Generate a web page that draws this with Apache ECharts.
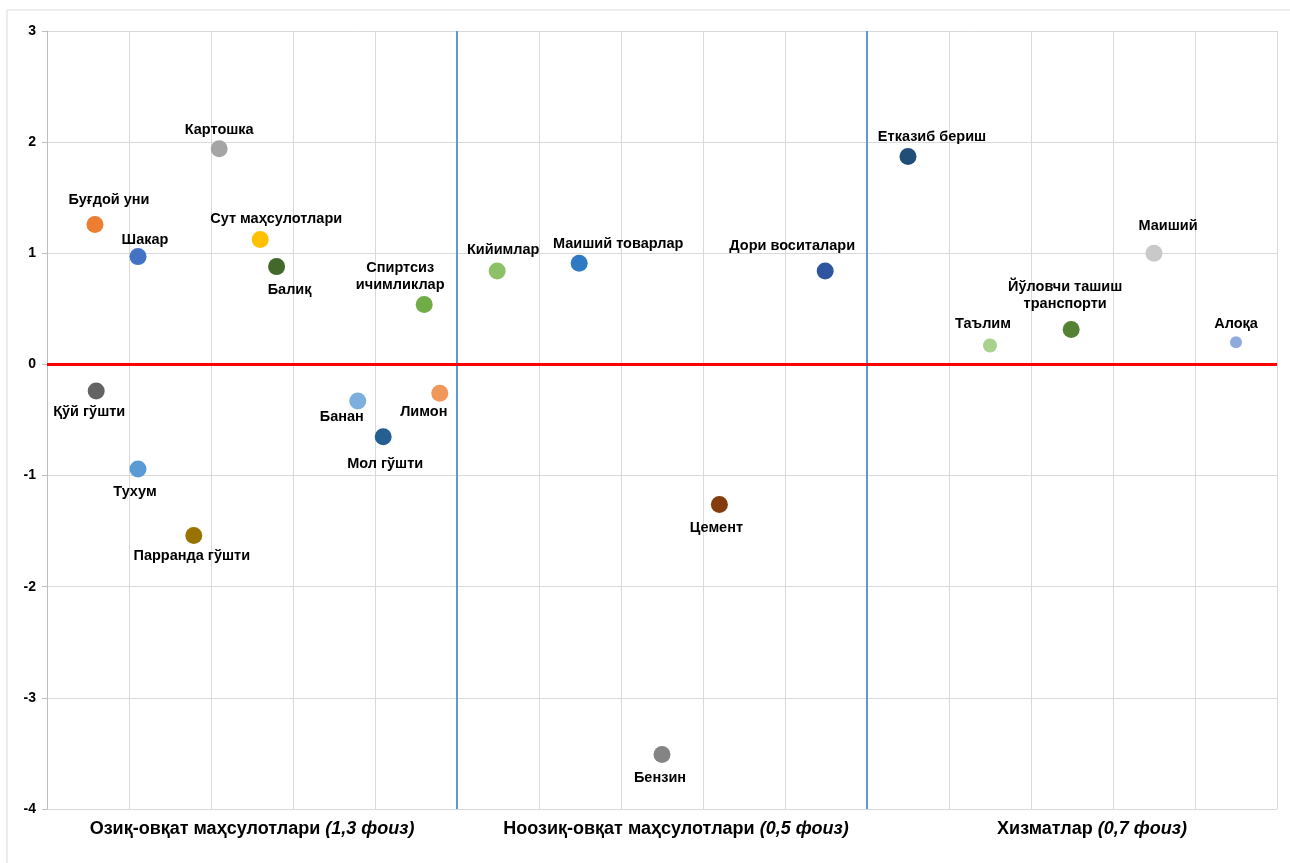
<!DOCTYPE html>
<html>
<head>
<meta charset="utf-8">
<script src="https://cdn.jsdelivr.net/npm/echarts@6/dist/echarts.min.js"></script>
<style>
html,body{margin:0;padding:0;background:#fff;}
#c{width:1290px;height:863px;}
</style>
</head>
<body>
<div id="c"></div>
<script>
// ---- data ----
const names = ['Буғдой уни','Шакар','Картошка','Сут маҳсулотлари','Балиқ','Спиртсиз\nичимликлар',
  'Қўй гўшти','Тухум','Парранда гўшти','Банан','Мол гўшти','Лимон',
  'Кийимлар','Маиший товарлар','Дори воситалари','Цемент','Бензин',
  'Етказиб бериш','Таълим','Йўловчи ташиш\nтранспорти','Маиший','Алоқа'];
const xValues = [0.585,1.11,2.10,2.60,2.80,4.60, 0.60,1.11,1.79,3.79,4.10,4.79,
  5.49,6.49,9.49,8.20,7.50, 10.50,11.50,12.49,13.50,14.50];
const yValues = [1.26,0.97,1.94,1.125,0.88,0.54, -0.24,-0.94,-1.54,-0.33,-0.65,-0.26,
  0.84,0.91,0.84,-1.26,-3.51, 1.87,0.17,0.315,1.0,0.20];
const groupLabels = ['Озиқ-овқат маҳсулотлари','Ноозиқ-овқат маҳсулотлари','Хизматлар'];
const groupShares = ['1,3','0,5','0,7'];
const yTicks = [-4,-3,-2,-1,0,1,2,3];
const dividers = [5,10];

// ---- styles (not data) ----
const colors = ['#ED7D31','#4472C4','#A5A5A5','#FFC000','#43682B','#70AD47',
  '#636363','#5B9BD5','#997300','#7CAFDD','#255E91','#F1975A',
  '#8CC168','#2E7BC4','#2F55A0','#843C0C','#848484',
  '#1F4E79','#A9D18E','#548235','#C9C9C9','#8FAADC'];
const sizes = [17,17,17,17,17,17, 17,17,17,17,17,17, 17,17,17,17,17, 17,14,17,17,12];
const labelOffsets = [[14,-24],[7,-17],[0,-19],[16,-20],[13,23],[-24,-28],
  [-7,21],[-3,23],[-2,20],[-16,16],[2,27],[-16,19],
  [6,-21],[39,-19],[-33,-25],[-3,24],[-2,23],
  [24,-20],[-7,-22],[-6,-34],[14,-27],[0,-18]];
const groupPad = [[0,0,0,0],[0,0,0,28],[0,0,0,40]];

const FONT = 'Liberation Sans, Arial, sans-serif';
const TXT = '#000000';
const pts = names.map((n,i)=>({
  name:n, value:[xValues[i], yValues[i]],
  symbolSize: sizes[i],
  itemStyle:{color:colors[i], opacity:1},
  label:{show:true, position:'inside', offset:labelOffsets[i], formatter:n,
    color:TXT, opacity:1, fontSize:14.5, fontWeight:'bold', fontFamily:FONT, lineHeight:17, align:'center'}
}));

const chart = echarts.init(document.getElementById('c'));
chart.setOption({
  animation:false,
  backgroundColor:'#fff',
  graphic:[{type:'rect', shape:{x:7,y:10,width:1300,height:900}, style:{fill:'none', stroke:'#d9d9d9', lineWidth:1}, silent:true, z:-10}],
  grid:{left:47, right:13, top:31, bottom:54},
  xAxis:[{
    type:'value', min:0, max:15, interval:1,
    axisLabel:{show:false}, axisTick:{show:false},
    axisLine:{show:false},
    splitLine:{show:true, lineStyle:{color:'#d9d9d9', width:1}}
  },{
    type:'category', data:groupLabels.map((g,i)=>g), position:'bottom',
    axisLine:{show:false}, axisTick:{show:false}, splitLine:{show:false},
    axisLabel:{interval:0, margin:11,
      formatter:(v,i)=>'{a'+i+'|'+v+' }{i|('+groupShares[i]+' фоиз)}',
      rich:{
        a0:{fontSize:18, fontWeight:'bold', fontFamily:FONT, color:TXT, padding:groupPad[0]},
        a1:{fontSize:18, fontWeight:'bold', fontFamily:FONT, color:TXT, padding:groupPad[1]},
        a2:{fontSize:18, fontWeight:'bold', fontFamily:FONT, color:TXT, padding:groupPad[2]},
        i:{fontSize:18, fontWeight:'bold', fontStyle:'italic', fontFamily:FONT, color:TXT}
      }}
  }],
  yAxis:{
    type:'value', min:-4, max:3, interval:1,
    axisLine:{show:true, lineStyle:{color:'#bfbfbf'}},
    axisTick:{show:true, length:5, lineStyle:{color:'#bfbfbf'}},
    axisLabel:{color:TXT, fontSize:14, fontWeight:'bold', fontFamily:FONT, margin:11,
      formatter:v=>yTicks.includes(v)?String(v):''},
    splitLine:{show:true, lineStyle:{color:'#d9d9d9', width:1}}
  },
  series:[{
    type:'scatter', xAxisIndex:0, data:pts, symbol:'circle',
    itemStyle:{opacity:1},
    markLine:{silent:true, symbol:'none', label:{show:false},
      data:[
        ...dividers.map(d=>({xAxis:d, lineStyle:{color:'#5B9BD5', width:2, type:'solid'}})),
        {yAxis:0, lineStyle:{color:'#FF0000', width:3, type:'solid'}}
      ]}
  }]
});
</script>
</body>
</html>
